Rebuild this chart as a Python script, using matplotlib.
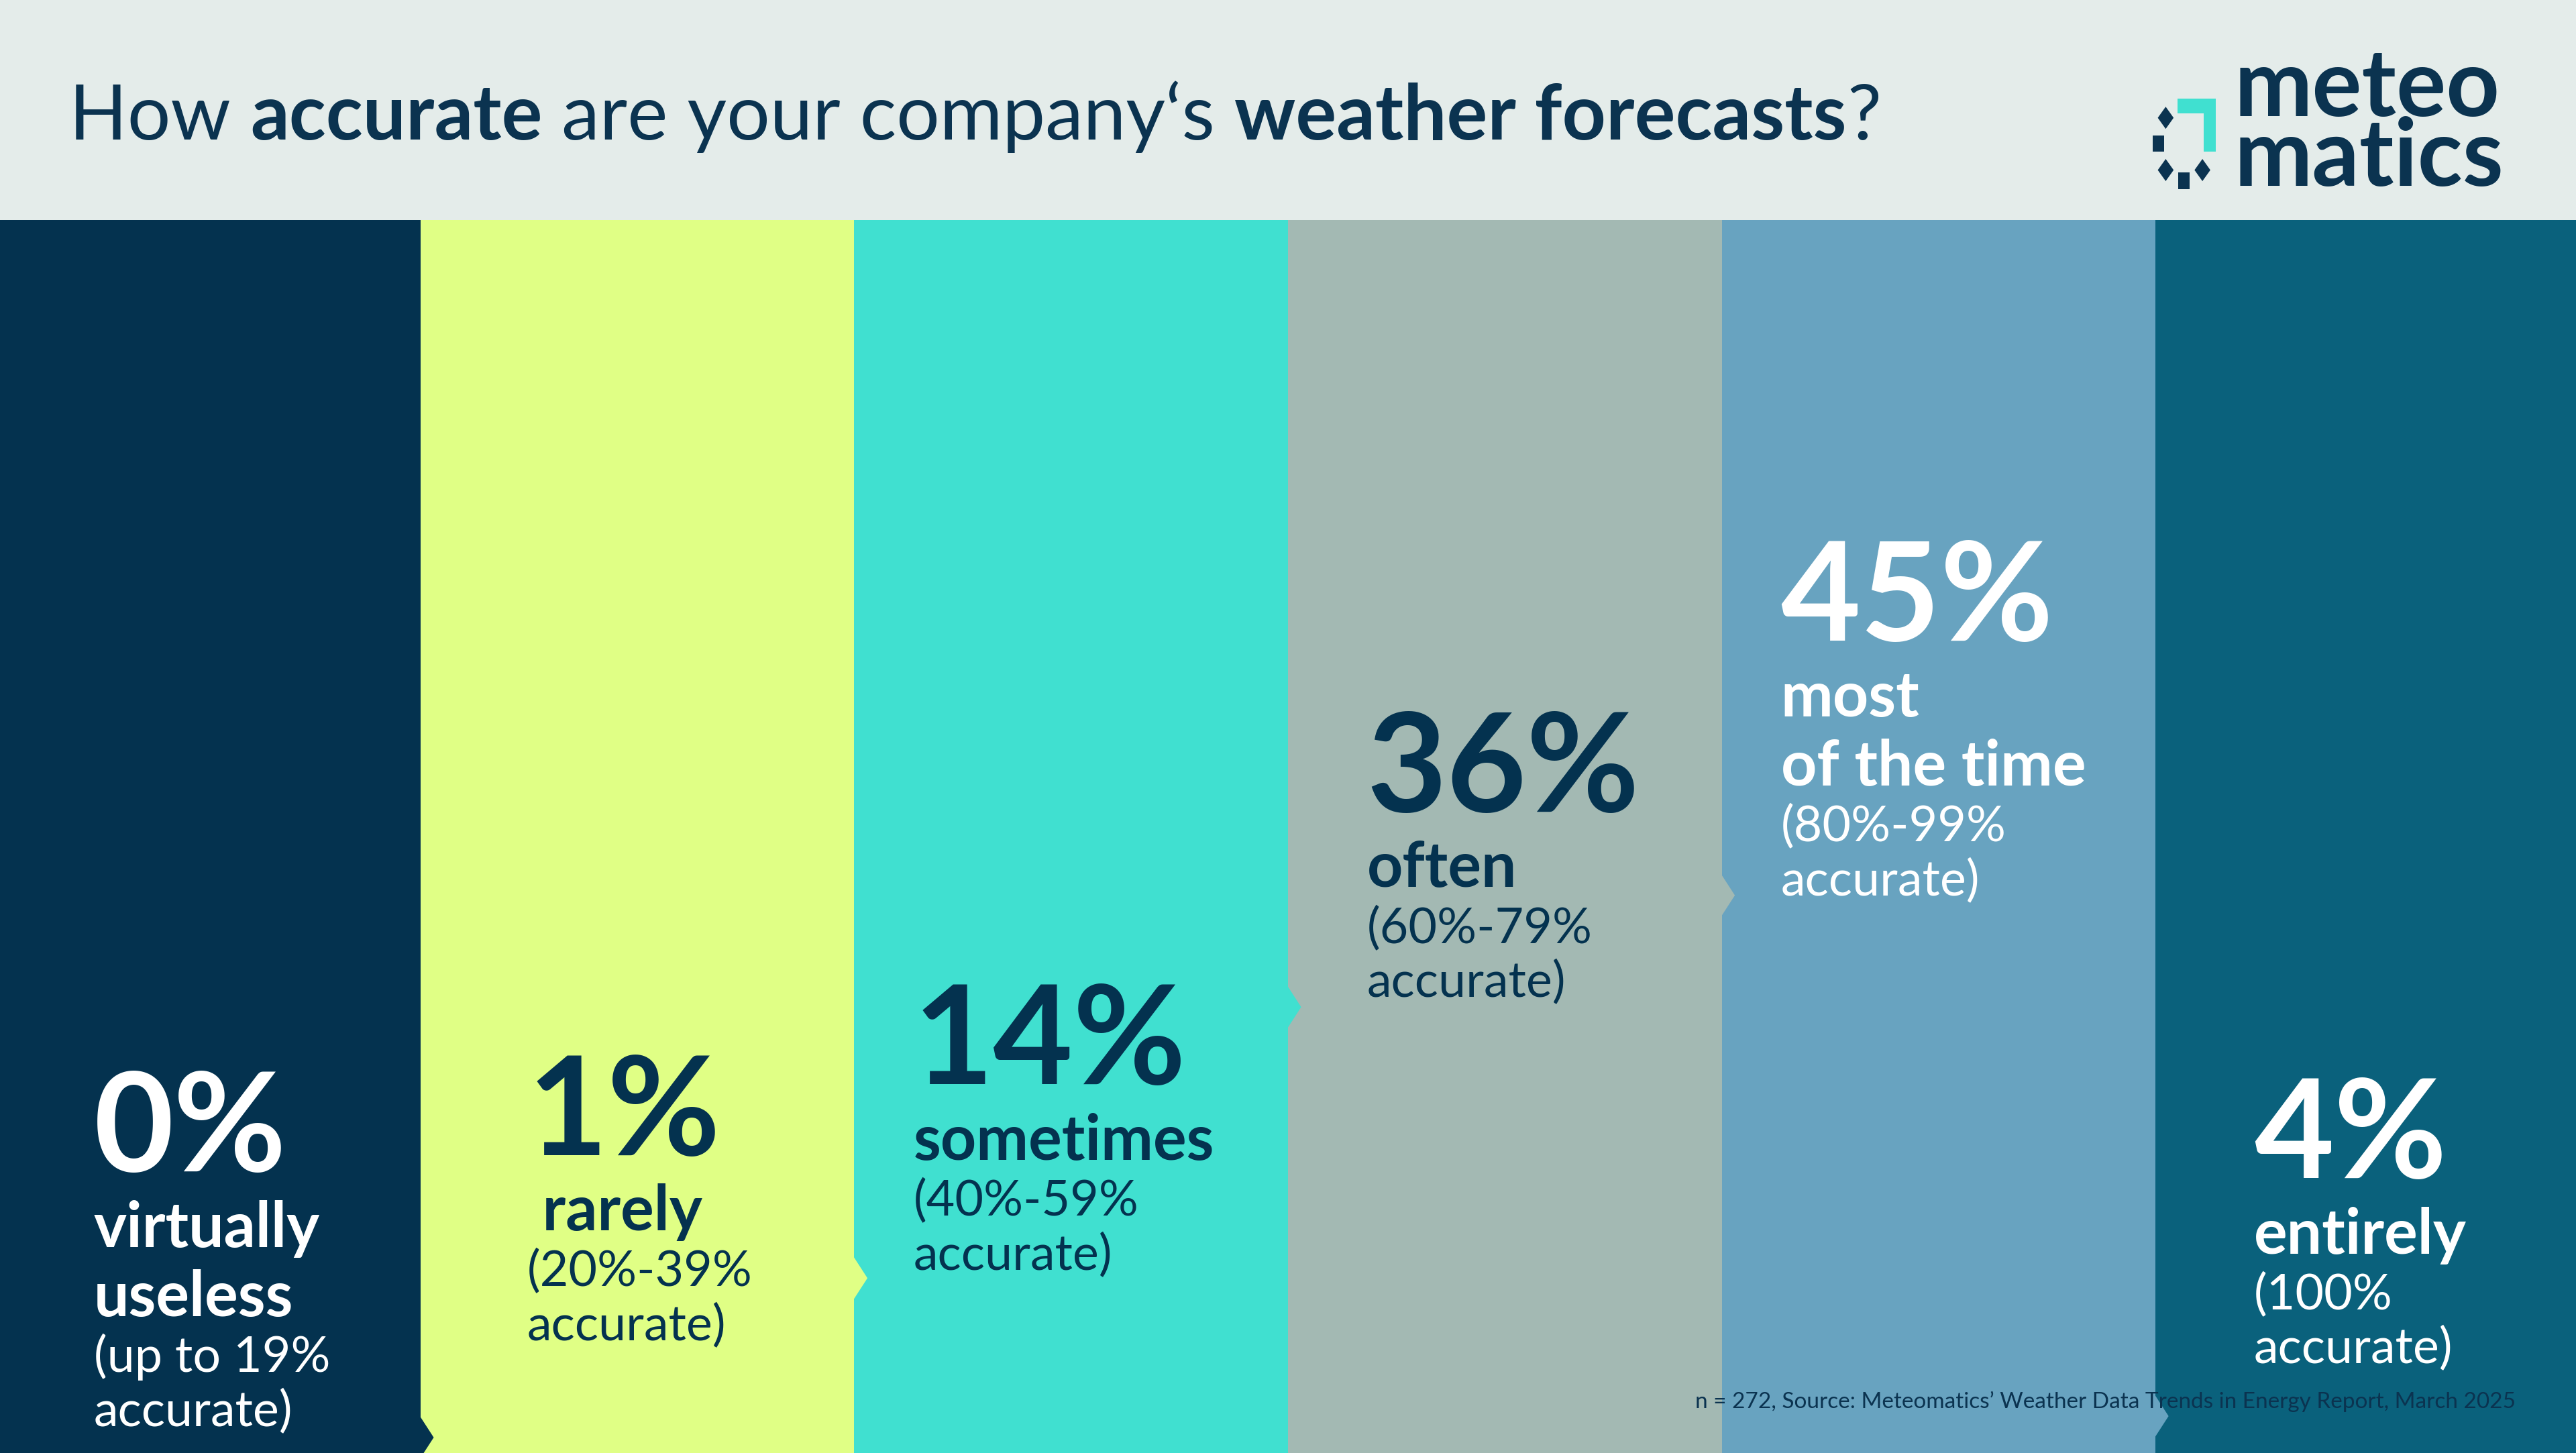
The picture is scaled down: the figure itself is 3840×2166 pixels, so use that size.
import matplotlib
matplotlib.use("Agg")
import matplotlib.pyplot as plt
from matplotlib.patches import Polygon, Rectangle

# ---- data ----
values = [0, 1, 14, 36, 45, 4]
value_labels = ["0%", "1%", "14%", "36%", "45%", "4%"]
category_lines = [["virtually", "useless"], [" rarely"], ["sometimes"], ["often"],
                  ["most", "of the time"], ["entirely"]]
range_lines = [["(up to 19%", "accurate)"], ["(20%-39%", "accurate)"], ["(40%-59%", "accurate)"],
               ["(60%-79%", "accurate)"], ["(80%-99%", "accurate)"], ["(100%", "accurate)"]]
title_parts = [("How ", "normal"), ("accurate", "bold"), (" are your company\u2018s ", "normal"),
               ("weather forecasts", "bold"), ("?", "normal")]
footer = "n = 272, Source: Meteomatics\u2019 Weather Data Trends in Energy Report, March 2025"

# ---- style ----
S = 3840 / 1568
W, H = 3840, 2166
col_edges = [0, 256, 520, 784, 1048, 1312, 1568]
colors = ["#04324f", "#e0ff85", "#40e0d0", "#a3b9b3", "#68a3c0", "#0a617c"]
txt_colors = ["white", "#04324f", "#04324f", "#04324f", "white", "white"]
text_x = [57, 321, 556, 832, 1084, 1372]
value_base = [713, 703, 660, 494, 390, 717]
notch_y = [875, 778, 613, 545, 862]
NAVY = "#0b3350"
FONT = "Lato"

fig = plt.figure(figsize=(38.4, 21.66), dpi=100)
ax = fig.add_axes([0, 0, 1, 1])
ax.set_xlim(0, W)
ax.set_ylim(H, 0)
ax.axis("off")
fig.patch.set_facecolor("#e4ecea")

top = 134 * S
lefts = [e * S for e in col_edges[:-1]]
widths = [(col_edges[i + 1] - col_edges[i]) * S for i in range(6)]
ax.bar(lefts, H - top, width=widths, bottom=top, align="edge", color=colors, linewidth=0, zorder=1)

# notches
for i, ny in enumerate(notch_y):
    xe = col_edges[i + 1] * S
    poly = Polygon([(xe - 1, (ny - 13) * S), (xe + 8 * S, ny * S), (xe - 1, (ny + 13) * S)],
                   closed=True, color=colors[i], linewidth=0, zorder=2)
    ax.add_patch(poly)

# column texts
for i in range(6):
    x = text_x[i] * S
    y = value_base[i]
    ax.text(x, y * S, value_labels[i], fontsize=148, fontweight="bold", color=txt_colors[i],
            family=FONT, va="baseline", ha="left", zorder=3)
    y += 46
    for ln in category_lines[i]:
        ax.text(x, y * S, ln, fontsize=67, fontweight="bold", color=txt_colors[i],
                family=FONT, va="baseline", ha="left", zorder=3)
        y += 42
    y -= 8
    for ln in range_lines[i]:
        ax.text(x, y * S, ln, fontsize=53, color=txt_colors[i],
                family=FONT, va="baseline", ha="left", zorder=3)
        y += 33

# title
fig.canvas.draw()
r = fig.canvas.get_renderer()
x = 42 * S
inv = ax.transData.inverted()
for s, w in title_parts:
    t = ax.text(x, 85 * S, s, fontsize=82, fontweight=w, color=NAVY, family=FONT,
                va="baseline", ha="left")
    bb = t.get_window_extent(renderer=r)
    x = inv.transform((bb.x1, 0))[0]

# footer
ax.text(1032 * S, 857 * S, footer, fontsize=24, color=NAVY, family=FONT, va="baseline",
        ha="left", zorder=4)

# logo
ax.text(1360 * S, 113 * S, "meteo\nmatics", fontsize=100, fontweight="bold", color=NAVY,
        family=FONT, va="baseline", ha="left", linespacing=0.78)
# icon
ox, oy, zf = 3100, 60, 1568 / 740
def zp(px, py):
    return (ox + px / zf, oy + py / zf)
teal = Polygon([zp(310, 185), zp(430, 185), zp(430, 352), zp(393, 352), zp(393, 232), zp(310, 232)],
               closed=True, color="#40e0d0", linewidth=0)
ax.add_patch(teal)
for (cx, cy) in [(272, 245), (272, 410), (388, 410)]:
    ax.add_patch(Polygon([zp(cx, cy - 35), zp(cx + 25, cy), zp(cx, cy + 35), zp(cx - 25, cy)],
                         closed=True, color=NAVY, linewidth=0))
for (x0, y0) in [(230, 300), (312, 418)]:
    a = zp(x0, y0)
    ax.add_patch(Rectangle(a, 36 / zf, 52 / zf, color=NAVY, linewidth=0))

fig.savefig("out.png", dpi=100, facecolor=fig.get_facecolor())
